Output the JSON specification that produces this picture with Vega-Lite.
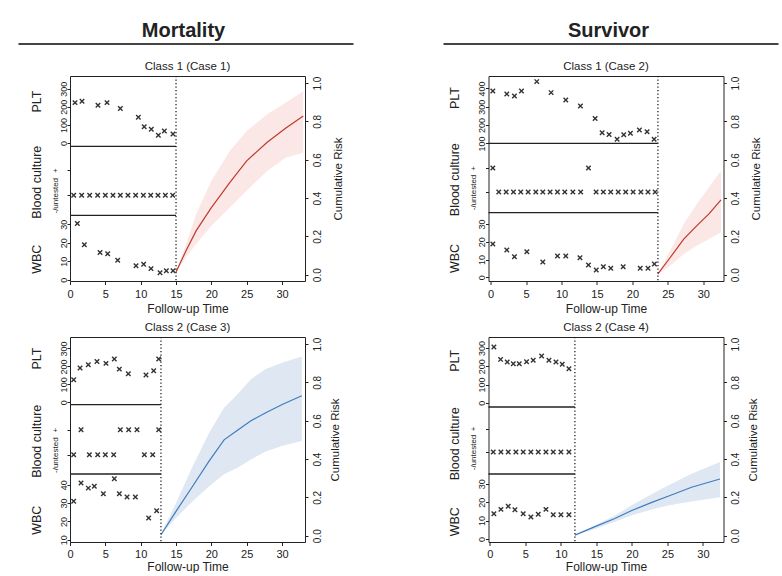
{
"$schema": "https://vega.github.io/schema/vega-lite/v6.json",
"padding": {"left": 17, "top": 18, "right": 0, "bottom": 0},
"config": {
  "font": "Liberation Sans",
  "view": {"stroke": "#222", "strokeWidth": 1},
  "axis": {"grid": false, "domain": false, "tickColor": "#222", "labelColor": "#222", "titleColor": "#222", "titleFontWeight": "normal", "labelFlush": false, "labelOverlap": false, "tickSize": 3},
  "axisLeft": {"labelAngle": 270, "labelAlign": "center", "labelBaseline": "alphabetic", "labelPadding": 1, "labelFontSize": 9, "titleFontSize": 12.5, "titleAngle": 270, "titleAlign": "center", "titleBaseline": "middle"},
  "axisRight": {"labelAngle": 270, "labelAlign": "center", "labelBaseline": "top", "labelPadding": 4, "labelFontSize": 10, "titleFontSize": 11.5, "titleAngle": 270, "titleAlign": "center", "titleBaseline": "middle"},
  "axisBottom": {"tickSize": 3.5, "labelPadding": 4, "labelFontSize": 11, "titleFontSize": 12, "titleBaseline": "middle"},
  "title": {"fontWeight": "normal", "color": "#222", "fontSize": 11.5, "offset": 3, "frame": "group", "anchor": "middle"}
},
"spacing": 14,
"vconcat": [
  {"width": 760, "height": 26, "view": {"stroke": null},
   "data": {"values": [{"label": "Mortality"}, {"label": "Survivor"}]},
   "encoding": {"x": {"field": "label", "type": "nominal", "sort": null, "scale": {"type": "band", "paddingInner": 0.2118, "paddingOuter": 0}, "axis": null}},
   "layer": [
     {"mark": {"type": "text", "fontSize": 20, "fontWeight": "bold", "baseline": "middle", "color": "#222", "xOffset": -54}, "encoding": {"text": {"field": "label"}, "y": {"datum": 0.5, "type": "quantitative", "scale": {"domain": [0, 1]}, "axis": null}}},
     {"mark": {"type": "tick", "size": 335, "thickness": 2.2, "color": "#444", "opacity": 1, "xOffset": -51.5}, "encoding": {"y": {"datum": 0, "type": "quantitative", "scale": {"domain": [0, 1]}, "axis": null}}}
   ]},
  {"columns": 2, "spacing": {"row": 6, "column": 91.5}, "concat": [
    {"width": 235, "height": 205, "title": "Class 1 (Case 1)",
     "data": {"values": [
       {"v": "PLT", "t": 0.71, "y": 223}, {"v": "PLT", "t": 1.7, "y": 230}, {"v": "PLT", "t": 3.96, "y": 208}, {"v": "PLT", "t": 5.24, "y": 223}, {"v": "PLT", "t": 7.12, "y": 190}, {"v": "PLT", "t": 9.67, "y": 142}, {"v": "PLT", "t": 10.5, "y": 90}, {"v": "PLT", "t": 11.5, "y": 76}, {"v": "PLT", "t": 12.5, "y": 43}, {"v": "PLT", "t": 13.35, "y": 66}, {"v": "PLT", "t": 14.57, "y": 50},
       {"v": "BC", "t": 0.52, "y": 0}, {"v": "BC", "t": 1.65, "y": 0}, {"v": "BC", "t": 2.78, "y": 0}, {"v": "BC", "t": 3.91, "y": 0}, {"v": "BC", "t": 5.0, "y": 0}, {"v": "BC", "t": 6.08, "y": 0}, {"v": "BC", "t": 7.12, "y": 0}, {"v": "BC", "t": 8.2, "y": 0}, {"v": "BC", "t": 9.29, "y": 0}, {"v": "BC", "t": 10.38, "y": 0}, {"v": "BC", "t": 11.42, "y": 0}, {"v": "BC", "t": 12.45, "y": 0}, {"v": "BC", "t": 13.49, "y": 0}, {"v": "BC", "t": 14.53, "y": 0},
       {"v": "WBC", "t": 1.04, "y": 30.4}, {"v": "WBC", "t": 2.03, "y": 18.9}, {"v": "WBC", "t": 4.25, "y": 14.7}, {"v": "WBC", "t": 5.33, "y": 14}, {"v": "WBC", "t": 6.75, "y": 10.5}, {"v": "WBC", "t": 9.34, "y": 7.5}, {"v": "WBC", "t": 10.42, "y": 8.4}, {"v": "WBC", "t": 11.46, "y": 6}, {"v": "WBC", "t": 12.74, "y": 3.8}, {"v": "WBC", "t": 13.63, "y": 4.9}, {"v": "WBC", "t": 14.58, "y": 4.9},
       {"v": "risk", "t": 15, "y": 0.014, "lo": 0.01, "hi": 0.018}, {"v": "risk", "t": 16.43, "y": 0.126, "lo": 0.092, "hi": 0.16}, {"v": "risk", "t": 17.86, "y": 0.23, "lo": 0.16, "hi": 0.317}, {"v": "risk", "t": 20, "y": 0.35, "lo": 0.256, "hi": 0.49}, {"v": "risk", "t": 22.6, "y": 0.48, "lo": 0.35, "hi": 0.646}, {"v": "risk", "t": 25, "y": 0.594, "lo": 0.438, "hi": 0.75}, {"v": "risk", "t": 27.86, "y": 0.69, "lo": 0.54, "hi": 0.836}, {"v": "risk", "t": 30.5, "y": 0.764, "lo": 0.61, "hi": 0.897}, {"v": "risk", "t": 33, "y": 0.828, "lo": 0.637, "hi": 0.958},
       {"v": "cut", "t": 15},
       {"v": "sep", "t": 0, "t2": 15, "y": 1}, {"v": "sep", "t": 0, "t2": 15, "y": 2}
     ]},
     "encoding": {"x": {"field": "t", "type": "quantitative", "scale": {"domain": [0, 33.25], "nice": false, "zero": false}, "axis": {"values": [0, 5, 10, 15, 20, 25, 30], "title": "Follow-up Time", "titleY": 27.5}}},
     "layer": [
       {"transform": [{"filter": "datum.v == 'risk'"}], "layer": [
         {"mark": {"type": "area", "color": "#fbe8e6", "opacity": 1}, "encoding": {"y": {"field": "lo", "type": "quantitative", "scale": {"domain": [-0.033, 1.037], "nice": false, "zero": false}, "axis": {"orient": "right", "values": [0, 0.2, 0.4, 0.6, 0.8, 1], "format": ".1f", "title": "Cumulative Risk", "titleX": 33, "titleY": 102.5}}, "y2": {"field": "hi"}}},
         {"mark": {"type": "line", "color": "#c0392b", "strokeWidth": 1.2}, "encoding": {"y": {"field": "y", "type": "quantitative", "scale": {"domain": [-0.033, 1.037], "nice": false, "zero": false}, "axis": {"orient": "right", "values": [0, 0.2, 0.4, 0.6, 0.8, 1], "format": ".1f", "title": "Cumulative Risk", "titleX": 33, "titleY": 102.5}}}}
       ]},
       {"transform": [{"filter": "datum.v == 'cut'"}], "mark": {"type": "rule", "color": "#222", "strokeWidth": 1.3, "strokeDash": [1.3, 2.2]}, "encoding": {}},
       {"transform": [{"filter": "datum.v == 'sep'"}], "mark": {"type": "rule", "color": "#222", "strokeWidth": 1.3}, "encoding": {"x2": {"field": "t2"}, "y": {"field": "y", "type": "quantitative", "scale": {"domain": [0.048, 3.019], "nice": false, "zero": false}, "axis": {"orient": "left", "ticks": false, "labels": false, "title": "|", "titleOpacity": 0, "titleFontSize": 8, "titleX": -48, "titleY": 100}}}},
       {"transform": [{"filter": "datum.v == 'PLT'"}], "mark": {"type": "point", "shape": "M-1,-1L1,1M-1,1L1,-1", "size": 20, "strokeWidth": 1.4, "color": "#333", "filled": false, "opacity": 1}, "encoding": {"y": {"field": "y", "type": "quantitative", "scale": {"domain": [-762, 370], "nice": false, "zero": false}, "axis": {"orient": "left", "values": [0, 100, 200, 300], "title": "PLT", "titleX": -34, "titleY": 25}}}},
       {"transform": [{"filter": "datum.v == 'BC'"}], "mark": {"type": "point", "shape": "M-1,-1L1,1M-1,1L1,-1", "size": 20, "strokeWidth": 1.4, "color": "#333", "filled": false, "opacity": 1}, "encoding": {"y": {"field": "y", "type": "quantitative", "scale": {"domain": [-3.43, 4.77], "nice": false, "zero": false}, "axis": {"orient": "left", "values": [0, 1], "labelExpr": "datum.value == 1 ? '+' : '-/untested'", "labelFontSize": 8, "labelPadding": 10, "title": "Blood culture", "titleX": -34, "titleY": 105.7}}}},
       {"transform": [{"filter": "datum.v == 'WBC'"}], "mark": {"type": "point", "shape": "M-1,-1L1,1M-1,1L1,-1", "size": 20, "strokeWidth": 1.4, "color": "#333", "filled": false, "opacity": 1}, "encoding": {"y": {"field": "y", "type": "quantitative", "scale": {"domain": [-0.7, 110.3], "nice": false, "zero": false}, "axis": {"orient": "left", "values": [0, 10, 20, 30], "title": "WBC", "titleX": -34, "titleY": 182.7}}}}
     ],
     "resolve": {"scale": {"y": "independent"}}},

    {"width": 235, "height": 205, "title": "Class 1 (Case 2)",
     "data": {"values": [
       {"v": "PLT", "t": 0.31, "y": 386}, {"v": "PLT", "t": 2.28, "y": 369}, {"v": "PLT", "t": 3.36, "y": 358}, {"v": "PLT", "t": 4.35, "y": 386}, {"v": "PLT", "t": 6.51, "y": 437}, {"v": "PLT", "t": 8.53, "y": 377}, {"v": "PLT", "t": 10.6, "y": 337}, {"v": "PLT", "t": 12.67, "y": 304}, {"v": "PLT", "t": 14.74, "y": 236}, {"v": "PLT", "t": 15.73, "y": 158}, {"v": "PLT", "t": 16.71, "y": 149}, {"v": "PLT", "t": 17.84, "y": 122}, {"v": "PLT", "t": 18.78, "y": 147}, {"v": "PLT", "t": 19.72, "y": 155}, {"v": "PLT", "t": 20.99, "y": 173}, {"v": "PLT", "t": 22.07, "y": 164}, {"v": "PLT", "t": 23.06, "y": 122},
       {"v": "BC", "t": 0.31, "y": 1}, {"v": "BC", "t": 13.8, "y": 1},
       {"v": "BC", "t": 1.15, "y": 0}, {"v": "BC", "t": 2.19, "y": 0}, {"v": "BC", "t": 3.22, "y": 0}, {"v": "BC", "t": 4.25, "y": 0}, {"v": "BC", "t": 5.29, "y": 0}, {"v": "BC", "t": 6.37, "y": 0}, {"v": "BC", "t": 7.36, "y": 0}, {"v": "BC", "t": 8.39, "y": 0}, {"v": "BC", "t": 9.43, "y": 0}, {"v": "BC", "t": 10.46, "y": 0}, {"v": "BC", "t": 11.6, "y": 0}, {"v": "BC", "t": 12.7, "y": 0}, {"v": "BC", "t": 14.88, "y": 0}, {"v": "BC", "t": 15.9, "y": 0}, {"v": "BC", "t": 16.94, "y": 0}, {"v": "BC", "t": 18.0, "y": 0}, {"v": "BC", "t": 19.05, "y": 0}, {"v": "BC", "t": 20.1, "y": 0}, {"v": "BC", "t": 21.2, "y": 0}, {"v": "BC", "t": 22.2, "y": 0}, {"v": "BC", "t": 23.2, "y": 0},
       {"v": "WBC", "t": 0.31, "y": 18.8}, {"v": "WBC", "t": 2.28, "y": 15.4}, {"v": "WBC", "t": 3.36, "y": 11.6}, {"v": "WBC", "t": 5.11, "y": 14.4}, {"v": "WBC", "t": 7.36, "y": 8.6}, {"v": "WBC", "t": 9.43, "y": 12}, {"v": "WBC", "t": 10.6, "y": 12}, {"v": "WBC", "t": 12.6, "y": 11}, {"v": "WBC", "t": 13.8, "y": 6.9}, {"v": "WBC", "t": 14.9, "y": 4.1}, {"v": "WBC", "t": 15.9, "y": 5.9}, {"v": "WBC", "t": 16.95, "y": 5}, {"v": "WBC", "t": 18.7, "y": 5.9}, {"v": "WBC", "t": 21.1, "y": 5}, {"v": "WBC", "t": 22.2, "y": 5}, {"v": "WBC", "t": 23.1, "y": 7.5},
       {"v": "risk", "t": 23.6, "y": 0.004, "lo": 0.002, "hi": 0.006}, {"v": "risk", "t": 25.36, "y": 0.091, "lo": 0.048, "hi": 0.126}, {"v": "risk", "t": 27.24, "y": 0.186, "lo": 0.108, "hi": 0.265}, {"v": "risk", "t": 29.1, "y": 0.256, "lo": 0.152, "hi": 0.369}, {"v": "risk", "t": 30.8, "y": 0.317, "lo": 0.186, "hi": 0.456}, {"v": "risk", "t": 32.5, "y": 0.39, "lo": 0.221, "hi": 0.543},
       {"v": "cut", "t": 23.6},
       {"v": "sep", "t": -0.3, "t2": 23.6, "y": 1}, {"v": "sep", "t": -0.3, "t2": 23.6, "y": 2}
     ]},
     "encoding": {"x": {"field": "t", "type": "quantitative", "scale": {"domain": [-0.3, 32.85], "nice": false, "zero": false}, "axis": {"values": [0, 5, 10, 15, 20, 25, 30], "title": "Follow-up Time", "titleY": 27.5}}},
     "layer": [
       {"transform": [{"filter": "datum.v == 'risk'"}], "layer": [
         {"mark": {"type": "area", "color": "#fbe8e6", "opacity": 1}, "encoding": {"y": {"field": "lo", "type": "quantitative", "scale": {"domain": [-0.033, 1.037], "nice": false, "zero": false}, "axis": {"orient": "right", "values": [0, 0.2, 0.4, 0.6, 0.8, 1], "format": ".1f", "title": "Cumulative Risk", "titleX": 33, "titleY": 102.5}}, "y2": {"field": "hi"}}},
         {"mark": {"type": "line", "color": "#c0392b", "strokeWidth": 1.2}, "encoding": {"y": {"field": "y", "type": "quantitative", "scale": {"domain": [-0.033, 1.037], "nice": false, "zero": false}, "axis": {"orient": "right", "values": [0, 0.2, 0.4, 0.6, 0.8, 1], "format": ".1f", "title": "Cumulative Risk", "titleX": 33, "titleY": 102.5}}}}
       ]},
       {"transform": [{"filter": "datum.v == 'cut'"}], "mark": {"type": "rule", "color": "#222", "strokeWidth": 1.3, "strokeDash": [1.3, 2.2]}, "encoding": {}},
       {"transform": [{"filter": "datum.v == 'sep'"}], "mark": {"type": "rule", "color": "#222", "strokeWidth": 1.3}, "encoding": {"x2": {"field": "t2"}, "y": {"field": "y", "type": "quantitative", "scale": {"domain": [0.0144, 2.973], "nice": false, "zero": false}, "axis": {"orient": "left", "ticks": false, "labels": false, "title": "|", "titleOpacity": 0, "titleFontSize": 8, "titleX": -48, "titleY": 100}}}},
       {"transform": [{"filter": "datum.v == 'PLT'"}], "mark": {"type": "point", "shape": "M-1,-1L1,1M-1,1L1,-1", "size": 20, "strokeWidth": 1.4, "color": "#333", "filled": false, "opacity": 1}, "encoding": {"y": {"field": "y", "type": "quantitative", "scale": {"domain": [-650.7, 467.6], "nice": false, "zero": false}, "axis": {"orient": "left", "values": [100, 200, 300, 400], "title": "PLT", "titleX": -34, "titleY": 21.5}}}},
       {"transform": [{"filter": "datum.v == 'BC'"}], "mark": {"type": "point", "shape": "M-1,-1L1,1M-1,1L1,-1", "size": 20, "strokeWidth": 1.4, "color": "#333", "filled": false, "opacity": 1}, "encoding": {"y": {"field": "y", "type": "quantitative", "scale": {"domain": [-3.708, 4.833], "nice": false, "zero": false}, "axis": {"orient": "left", "values": [0, 1], "labelExpr": "datum.value == 1 ? '+' : '-/untested'", "labelFontSize": 8, "labelPadding": 10, "title": "Blood culture", "titleX": -34, "titleY": 103.2}}}},
       {"transform": [{"filter": "datum.v == 'WBC'"}], "mark": {"type": "point", "shape": "M-1,-1L1,1M-1,1L1,-1", "size": 20, "strokeWidth": 1.4, "color": "#333", "filled": false, "opacity": 1}, "encoding": {"y": {"field": "y", "type": "quantitative", "scale": {"domain": [-2.15, 113.7], "nice": false, "zero": false}, "axis": {"orient": "left", "values": [0, 10, 20, 30], "title": "WBC", "titleX": -34, "titleY": 182}}}}
     ],
     "resolve": {"scale": {"y": "independent"}}},

    {"width": 235, "height": 205, "title": "Class 2 (Case 3)",
     "data": {"values": [
       {"v": "PLT", "t": 0.52, "y": 126}, {"v": "PLT", "t": 1.42, "y": 191}, {"v": "PLT", "t": 2.59, "y": 209}, {"v": "PLT", "t": 3.82, "y": 228}, {"v": "PLT", "t": 5.09, "y": 217}, {"v": "PLT", "t": 6.27, "y": 242}, {"v": "PLT", "t": 6.98, "y": 185}, {"v": "PLT", "t": 8.25, "y": 159}, {"v": "PLT", "t": 10.75, "y": 152}, {"v": "PLT", "t": 11.84, "y": 176}, {"v": "PLT", "t": 12.55, "y": 242},
       {"v": "BC", "t": 1.56, "y": 1}, {"v": "BC", "t": 7.12, "y": 1}, {"v": "BC", "t": 8.3, "y": 1}, {"v": "BC", "t": 9.48, "y": 1}, {"v": "BC", "t": 12.55, "y": 1},
       {"v": "BC", "t": 0.52, "y": 0}, {"v": "BC", "t": 2.74, "y": 0}, {"v": "BC", "t": 3.92, "y": 0}, {"v": "BC", "t": 5.0, "y": 0}, {"v": "BC", "t": 6.18, "y": 0}, {"v": "BC", "t": 10.52, "y": 0}, {"v": "BC", "t": 11.7, "y": 0},
       {"v": "WBC", "t": 0.52, "y": 31}, {"v": "WBC", "t": 1.56, "y": 41}, {"v": "WBC", "t": 2.59, "y": 38.2}, {"v": "WBC", "t": 3.44, "y": 39.2}, {"v": "WBC", "t": 4.72, "y": 35.1}, {"v": "WBC", "t": 6.27, "y": 43.3}, {"v": "WBC", "t": 6.98, "y": 35.1}, {"v": "WBC", "t": 8.07, "y": 33.3}, {"v": "WBC", "t": 9.25, "y": 33.3}, {"v": "WBC", "t": 11.13, "y": 21.9}, {"v": "WBC", "t": 12.26, "y": 25.8},
       {"v": "risk", "t": 12.87, "y": 0.005, "lo": 0.003, "hi": 0.007}, {"v": "risk", "t": 15.0, "y": 0.127, "lo": 0.092, "hi": 0.17}, {"v": "risk", "t": 17.35, "y": 0.258, "lo": 0.18, "hi": 0.363}, {"v": "risk", "t": 19.7, "y": 0.39, "lo": 0.258, "hi": 0.537}, {"v": "risk", "t": 21.8, "y": 0.5, "lo": 0.32, "hi": 0.668}, {"v": "risk", "t": 23.7, "y": 0.55, "lo": 0.354, "hi": 0.738}, {"v": "risk", "t": 25.6, "y": 0.6, "lo": 0.398, "hi": 0.817}, {"v": "risk", "t": 27.7, "y": 0.642, "lo": 0.44, "hi": 0.87}, {"v": "risk", "t": 30.1, "y": 0.686, "lo": 0.47, "hi": 0.904}, {"v": "risk", "t": 32.8, "y": 0.73, "lo": 0.494, "hi": 0.935},
       {"v": "cut", "t": 12.87},
       {"v": "sep", "t": 0, "t2": 12.87, "y": 1}, {"v": "sep", "t": 0, "t2": 12.87, "y": 2}
     ]},
     "encoding": {"x": {"field": "t", "type": "quantitative", "scale": {"domain": [0, 33.25], "nice": false, "zero": false}, "axis": {"values": [0, 5, 10, 15, 20, 25, 30], "title": "Follow-up Time", "titleY": 24.5, "labelPadding": 3}}},
     "layer": [
       {"transform": [{"filter": "datum.v == 'risk'"}], "layer": [
         {"mark": {"type": "area", "color": "#dfe8f2", "opacity": 1}, "encoding": {"y": {"field": "lo", "type": "quantitative", "scale": {"domain": [-0.033, 1.037], "nice": false, "zero": false}, "axis": {"orient": "right", "values": [0, 0.2, 0.4, 0.6, 0.8, 1], "format": ".1f", "title": "Cumulative Risk", "titleX": 30, "titleY": 102.5}}, "y2": {"field": "hi"}}},
         {"mark": {"type": "line", "color": "#3d7dbf", "strokeWidth": 1.2}, "encoding": {"y": {"field": "y", "type": "quantitative", "scale": {"domain": [-0.033, 1.037], "nice": false, "zero": false}, "axis": {"orient": "right", "values": [0, 0.2, 0.4, 0.6, 0.8, 1], "format": ".1f", "title": "Cumulative Risk", "titleX": 30, "titleY": 102.5}}}}
       ]},
       {"transform": [{"filter": "datum.v == 'cut'"}], "mark": {"type": "rule", "color": "#222", "strokeWidth": 1.3, "strokeDash": [1.3, 2.2]}, "encoding": {}},
       {"transform": [{"filter": "datum.v == 'sep'"}], "mark": {"type": "rule", "color": "#222", "strokeWidth": 1.3}, "encoding": {"x2": {"field": "t2"}, "y": {"field": "y", "type": "quantitative", "scale": {"domain": [0.019, 2.977], "nice": false, "zero": false}, "axis": {"orient": "left", "ticks": false, "labels": false, "title": "|", "titleOpacity": 0, "titleFontSize": 8, "titleX": -48, "titleY": 100}}}},
       {"transform": [{"filter": "datum.v == 'PLT'"}], "mark": {"type": "point", "shape": "M-1,-1L1,1M-1,1L1,-1", "size": 20, "strokeWidth": 1.4, "color": "#333", "filled": false, "opacity": 1}, "encoding": {"y": {"field": "y", "type": "quantitative", "scale": {"domain": [-779, 364.1], "nice": false, "zero": false}, "axis": {"orient": "left", "values": [0, 100, 200, 300], "title": "PLT", "titleX": -34, "titleY": 21}}}},
       {"transform": [{"filter": "datum.v == 'BC'"}], "mark": {"type": "point", "shape": "M-1,-1L1,1M-1,1L1,-1", "size": 20, "strokeWidth": 1.4, "color": "#333", "filled": false, "opacity": 1}, "encoding": {"y": {"field": "y", "type": "quantitative", "scale": {"domain": [-3.492, 4.708], "nice": false, "zero": false}, "axis": {"orient": "left", "values": [0, 1], "labelExpr": "datum.value == 1 ? '+' : '-/untested'", "labelFontSize": 8, "labelPadding": 10, "title": "Blood culture", "titleX": -34, "titleY": 103.7}}}},
       {"transform": [{"filter": "datum.v == 'WBC'"}], "mark": {"type": "point", "shape": "M-1,-1L1,1M-1,1L1,-1", "size": 20, "strokeWidth": 1.4, "color": "#333", "filled": false, "opacity": 1}, "encoding": {"y": {"field": "y", "type": "quantitative", "scale": {"domain": [8.74, 120.8], "nice": false, "zero": false}, "axis": {"orient": "left", "values": [10, 20, 30, 40], "title": "WBC", "titleX": -34, "titleY": 182.7}}}}
     ],
     "resolve": {"scale": {"y": "independent"}}},

    {"width": 235, "height": 205, "title": "Class 2 (Case 4)",
     "data": {"values": [
       {"v": "PLT", "t": 0.56, "y": 306}, {"v": "PLT", "t": 1.5, "y": 238}, {"v": "PLT", "t": 2.44, "y": 224}, {"v": "PLT", "t": 3.29, "y": 214}, {"v": "PLT", "t": 4.13, "y": 214}, {"v": "PLT", "t": 5.16, "y": 225}, {"v": "PLT", "t": 6.1, "y": 233}, {"v": "PLT", "t": 7.28, "y": 257}, {"v": "PLT", "t": 8.31, "y": 233}, {"v": "PLT", "t": 9.3, "y": 224}, {"v": "PLT", "t": 10.19, "y": 211}, {"v": "PLT", "t": 11.13, "y": 187},
       {"v": "BC", "t": 0.47, "y": 0}, {"v": "BC", "t": 1.55, "y": 0}, {"v": "BC", "t": 2.58, "y": 0}, {"v": "BC", "t": 3.66, "y": 0}, {"v": "BC", "t": 4.69, "y": 0}, {"v": "BC", "t": 5.77, "y": 0}, {"v": "BC", "t": 6.81, "y": 0}, {"v": "BC", "t": 7.89, "y": 0}, {"v": "BC", "t": 8.92, "y": 0}, {"v": "BC", "t": 10.0, "y": 0}, {"v": "BC", "t": 11.13, "y": 0},
       {"v": "WBC", "t": 0.56, "y": 13.7}, {"v": "WBC", "t": 1.55, "y": 16.1}, {"v": "WBC", "t": 2.58, "y": 17.8}, {"v": "WBC", "t": 3.52, "y": 15.9}, {"v": "WBC", "t": 4.69, "y": 13.7}, {"v": "WBC", "t": 5.77, "y": 12}, {"v": "WBC", "t": 6.81, "y": 13.4}, {"v": "WBC", "t": 7.89, "y": 16.1}, {"v": "WBC", "t": 8.92, "y": 13.2}, {"v": "WBC", "t": 10.0, "y": 13.2}, {"v": "WBC", "t": 11.13, "y": 13.2},
       {"v": "risk", "t": 11.97, "y": 0.003, "lo": 0.002, "hi": 0.004}, {"v": "risk", "t": 14.8, "y": 0.047, "lo": 0.035, "hi": 0.054}, {"v": "risk", "t": 17.6, "y": 0.09, "lo": 0.073, "hi": 0.105}, {"v": "risk", "t": 19.9, "y": 0.13, "lo": 0.105, "hi": 0.157}, {"v": "risk", "t": 22.8, "y": 0.174, "lo": 0.136, "hi": 0.218}, {"v": "risk", "t": 25.1, "y": 0.206, "lo": 0.157, "hi": 0.262}, {"v": "risk", "t": 28.4, "y": 0.253, "lo": 0.178, "hi": 0.323}, {"v": "risk", "t": 32.4, "y": 0.296, "lo": 0.2, "hi": 0.384},
       {"v": "cut", "t": 11.97},
       {"v": "sep", "t": -0.2, "t2": 11.97, "y": 1}, {"v": "sep", "t": -0.2, "t2": 11.97, "y": 2}
     ]},
     "encoding": {"x": {"field": "t", "type": "quantitative", "scale": {"domain": [-0.2, 32.9], "nice": false, "zero": false}, "axis": {"values": [0, 5, 10, 15, 20, 25, 30], "title": "Follow-up Time", "titleY": 24.5, "labelPadding": 3}}},
     "layer": [
       {"transform": [{"filter": "datum.v == 'risk'"}], "layer": [
         {"mark": {"type": "area", "color": "#dfe8f2", "opacity": 1}, "encoding": {"y": {"field": "lo", "type": "quantitative", "scale": {"domain": [-0.033, 1.037], "nice": false, "zero": false}, "axis": {"orient": "right", "values": [0, 0.2, 0.4, 0.6, 0.8, 1], "format": ".1f", "title": "Cumulative Risk", "titleX": 30, "titleY": 102.5}}, "y2": {"field": "hi"}}},
         {"mark": {"type": "line", "color": "#3d7dbf", "strokeWidth": 1.2}, "encoding": {"y": {"field": "y", "type": "quantitative", "scale": {"domain": [-0.033, 1.037], "nice": false, "zero": false}, "axis": {"orient": "right", "values": [0, 0.2, 0.4, 0.6, 0.8, 1], "format": ".1f", "title": "Cumulative Risk", "titleX": 30, "titleY": 102.5}}}}
       ]},
       {"transform": [{"filter": "datum.v == 'cut'"}], "mark": {"type": "rule", "color": "#222", "strokeWidth": 1.3, "strokeDash": [1.3, 2.2]}, "encoding": {}},
       {"transform": [{"filter": "datum.v == 'sep'"}], "mark": {"type": "rule", "color": "#222", "strokeWidth": 1.3}, "encoding": {"x2": {"field": "t2"}, "y": {"field": "y", "type": "quantitative", "scale": {"domain": [-0.015, 3.045], "nice": false, "zero": false}, "axis": {"orient": "left", "ticks": false, "labels": false, "title": "|", "titleOpacity": 0, "titleFontSize": 8, "titleX": -48, "titleY": 100}}}},
       {"transform": [{"filter": "datum.v == 'PLT'"}], "mark": {"type": "point", "shape": "M-1,-1L1,1M-1,1L1,-1", "size": 20, "strokeWidth": 1.4, "color": "#333", "filled": false, "opacity": 1}, "encoding": {"y": {"field": "y", "type": "quantitative", "scale": {"domain": [-765.4, 361], "nice": false, "zero": false}, "axis": {"orient": "left", "values": [0, 100, 200, 300], "title": "PLT", "titleX": -34, "titleY": 23.3}}}},
       {"transform": [{"filter": "datum.v == 'BC'"}], "mark": {"type": "point", "shape": "M-1,-1L1,1M-1,1L1,-1", "size": 20, "strokeWidth": 1.4, "color": "#333", "filled": false, "opacity": 1}, "encoding": {"y": {"field": "y", "type": "quantitative", "scale": {"domain": [-3.83, 4.894], "nice": false, "zero": false}, "axis": {"orient": "left", "values": [0, 1], "labelExpr": "datum.value == 1 ? '+' : '-/untested'", "labelFontSize": 8, "labelPadding": 10, "title": "Blood culture", "titleX": -34, "titleY": 106.3}}}},
       {"transform": [{"filter": "datum.v == 'WBC'"}], "mark": {"type": "point", "shape": "M-1,-1L1,1M-1,1L1,-1", "size": 20, "strokeWidth": 1.4, "color": "#333", "filled": false, "opacity": 1}, "encoding": {"y": {"field": "y", "type": "quantitative", "scale": {"domain": [-1.63, 109.8], "nice": false, "zero": false}, "axis": {"orient": "left", "values": [0, 10, 20, 30], "title": "WBC", "titleX": -34, "titleY": 184.2}}}}
     ],
     "resolve": {"scale": {"y": "independent"}}}
  ]}
]
}
